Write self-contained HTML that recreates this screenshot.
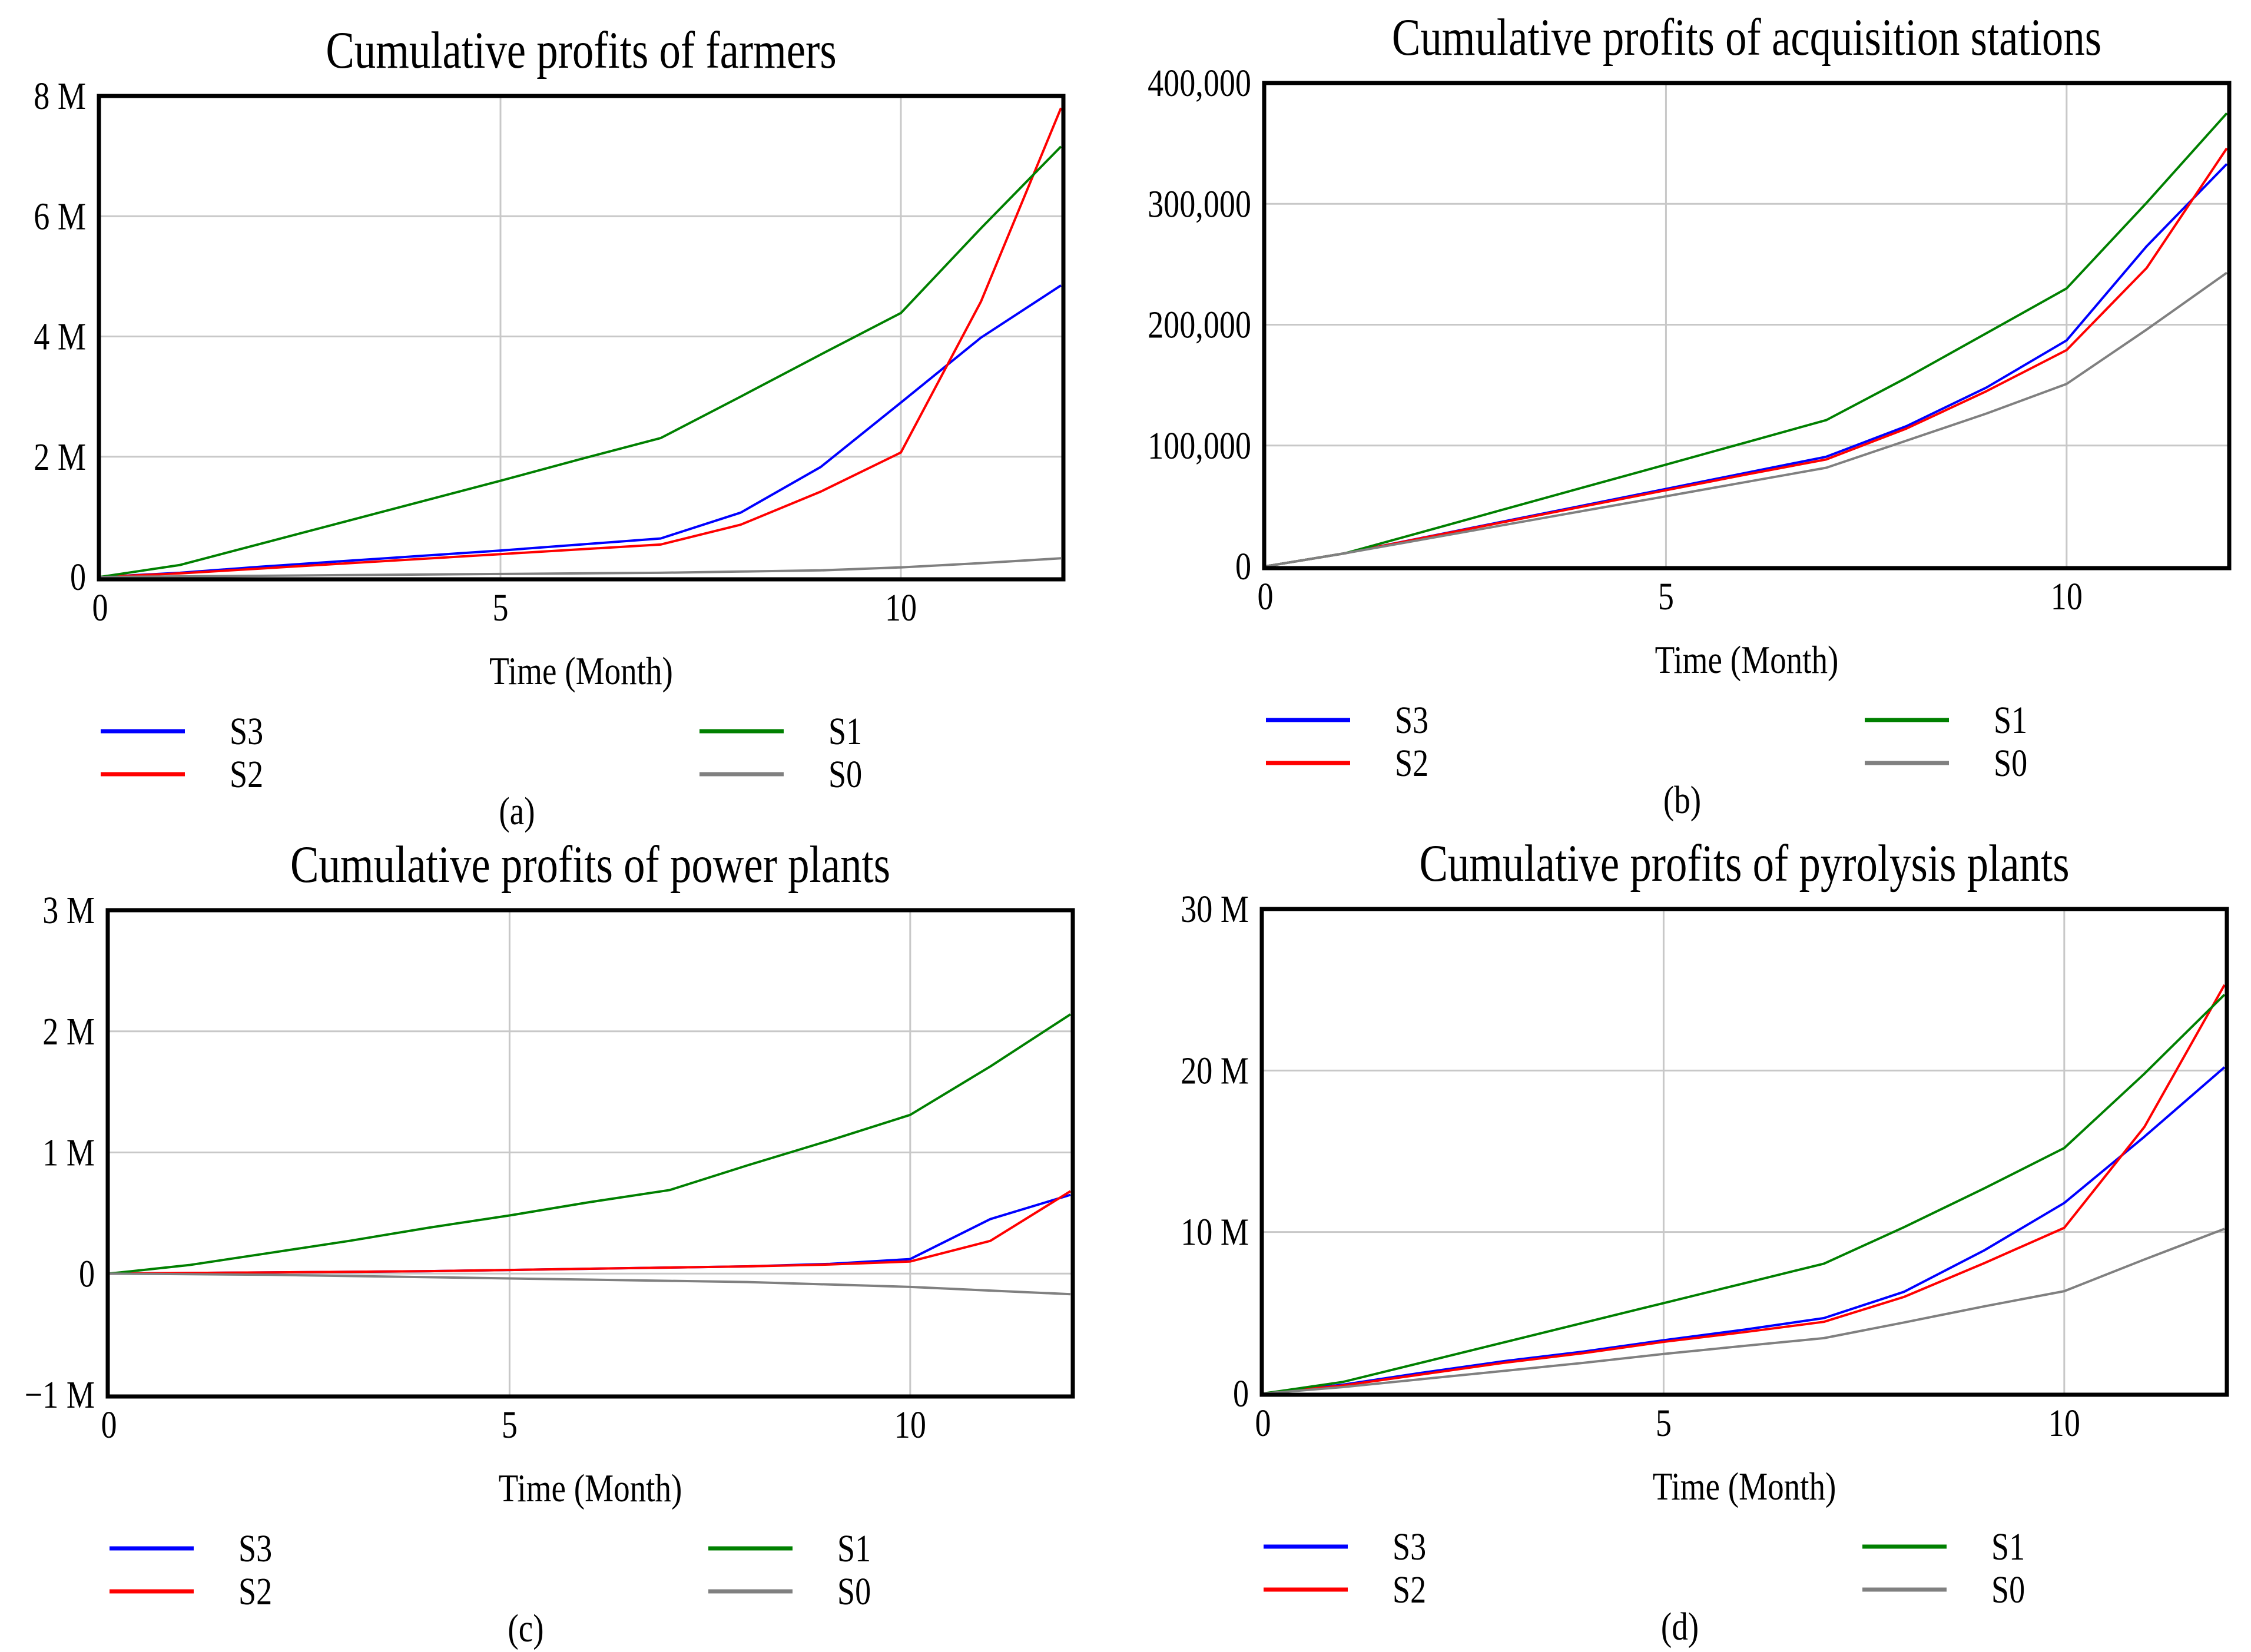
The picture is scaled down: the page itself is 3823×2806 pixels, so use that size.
<!DOCTYPE html>
<html>
<head>
<meta charset="utf-8">
<style>
html,body{margin:0;padding:0;background:#fff;}
svg{display:block;}
text{font-family:"Liberation Serif",serif;fill:#000;}
</style>
</head>
<body>
<svg id="fig" width="3823" height="2806" viewBox="0 0 3823 2806" xmlns="http://www.w3.org/2000/svg"></svg>
<script>
// ---- data ----
const months = [0,1,2,3,4,5,6,7,8,9,10,11,12];
const seriesNames = ["S3","S2","S1","S0"];
const seriesColors = ["#0000ff","#ff0000","#008000","#808080"];

// (a) farmers, M
const farmersS3 = [0,0.07,0.17,0.26,0.35,0.44,0.54,0.64,1.07,1.83,2.9,3.98,4.85];
const farmersS2 = [0,0.06,0.14,0.22,0.3,0.38,0.46,0.54,0.87,1.42,2.07,4.58,7.8];
const farmersS1 = [0,0.2,0.55,0.9,1.25,1.6,1.96,2.31,3.0,3.7,4.39,5.8,7.16];
const farmersS0 = [0,0.01,0.02,0.03,0.04,0.05,0.06,0.07,0.09,0.11,0.16,0.23,0.31];
const farmersTicks = [0,2,4,6,8];
const farmersTickLabels = ["0","2 M","4 M","6 M","8 M"];

// (b) acquisition stations, thousands
const stationsS3 = [0,10.9,24.2,37.5,50.8,64.1,77.4,90.7,116,148,187,265,333];
const stationsS2 = [0,10.9,24,37,50,63,76,88.5,114,145,179,247,346];
const stationsS1 = [0,10.9,29.2,47.6,65.9,84.2,102.6,121,156,193,230,301,375];
const stationsS0 = [0,10.9,22.7,34.5,46.3,58,69.8,81.6,104,126.5,151,196,243];
const stationsTicks = [0,100,200,300,400];
const stationsTickLabels = ["0","100,000","200,000","300,000","400,000"];

// (c) power plants, M
const powerS3 = [0,0.005,0.01,0.015,0.02,0.03,0.04,0.05,0.06,0.08,0.12,0.45,0.65];
const powerS2 = [0,0.005,0.01,0.015,0.02,0.03,0.04,0.05,0.06,0.075,0.10,0.27,0.68];
const powerS1 = [0,0.07,0.17,0.27,0.38,0.48,0.59,0.69,0.9,1.1,1.31,1.71,2.14];
const powerS0 = [0,-0.005,-0.01,-0.02,-0.03,-0.04,-0.05,-0.06,-0.07,-0.09,-0.11,-0.14,-0.17];
const powerTicks = [-1,0,1,2,3];
const powerTickLabels = ["\u22121 M","0","1 M","2 M","3 M"];

// (d) pyrolysis plants, M
const pyroS3 = [0,0.55,1.3,2.0,2.6,3.3,3.95,4.67,6.3,8.86,11.8,15.9,20.2];
const pyroS2 = [0,0.5,1.2,1.9,2.5,3.2,3.8,4.44,5.98,8.07,10.26,16.5,25.3];
const pyroS1 = [0,0.72,1.94,3.16,4.38,5.6,6.82,8.04,10.3,12.7,15.2,19.8,24.7];
const pyroS0 = [0,0.4,0.9,1.4,1.9,2.45,2.95,3.43,4.4,5.4,6.34,8.3,10.2];
const pyroTicks = [0,10,20,30];
const pyroTickLabels = ["0","10 M","20 M","30 M"];

const xTicks = [0,5,10];
const xTickLabels = ["0","5","10"];

// ---- layout ----
const panels = [
 {id:"farmers", title:"Cumulative profits of farmers", caption:"(a)", L:168,T:163,R:1806,B:984, y0:980, yMin:0,yMax:8, yTopPix:163,
  series:[farmersS3,farmersS2,farmersS1,farmersS0], ticks:farmersTicks, labels:farmersTickLabels},
 {id:"stations", title:"Cumulative profits of acquisition stations", caption:"(b)", L:2147,T:141,R:3786,B:965, y0:962, yMin:0,yMax:400, yTopPix:141,
  series:[stationsS3,stationsS2,stationsS1,stationsS0], ticks:stationsTicks, labels:stationsTickLabels},
 {id:"power", title:"Cumulative profits of power plants", caption:"(c)", L:183,T:1546,R:1822,B:2372, y0:2369, yMin:-1,yMax:3, yTopPix:1546,
  series:[powerS3,powerS2,powerS1,powerS0], ticks:powerTicks, labels:powerTickLabels},
 {id:"pyrolysis", title:"Cumulative profits of pyrolysis plants", caption:"(d)", L:2143,T:1544,R:3782,B:2369, y0:2367, yMin:0,yMax:30, yTopPix:1544,
  series:[pyroS3,pyroS2,pyroS1,pyroS0], ticks:pyroTicks, labels:pyroTickLabels}
];

const NS="http://www.w3.org/2000/svg";
const svg=document.getElementById("fig");
const SX=0.82, FS=1.2;
function mk(tag,attrs,parent){const e=document.createElementNS(NS,tag);for(const k in attrs)e.setAttribute(k,attrs[k]);(parent||svg).appendChild(e);return e;}
function txt(x,y,size,anchor,str,parent){
  const t=mk("text",{x:0,y:0,"font-size":size*FS,"text-anchor":anchor,transform:"translate("+x+","+y+") scale("+SX+",1)"},parent);
  t.textContent=str;return t;
}

panels.forEach(p=>{
  const g=mk("g",{});
  
  
  const x0=p.L+2, x12=p.R-4;
  const xs=v=>x0+(x12-x0)*v/12;
  const ys=v=>p.y0+(p.yTopPix-p.y0)*(v-p.yMin)/(p.yMax-p.yMin);

  xTicks.forEach((t,i)=>{
    if(t>0){const l=mk("line",{x1:xs(t),x2:xs(t),y1:p.T,y2:p.B,stroke:"#c8c8c8","stroke-width":3},g);
      
      }
    const tx=txt(xs(t),p.B+70,55,"middle",xTickLabels[i],g);
    
    
  });
  p.ticks.forEach((t,i)=>{
    const y=ys(t);
    if(t!==p.yMin && t!==p.yMax){const l=mk("line",{x1:p.L,x2:p.R,y1:y,y2:y,stroke:"#c8c8c8","stroke-width":3},g);
      
      }
    const tx=txt(p.L-22,y+22,55,"end",p.labels[i],g);
    
    
  });
  p.series.forEach((arr,si)=>{
    const pts=arr.map((v,i)=>xs(months[i]).toFixed(1)+","+ys(v).toFixed(1)).join(" ");
    const pl=mk("polyline",{points:pts,fill:"none",stroke:seriesColors[si],"stroke-width":4,"stroke-linejoin":"round"},g);
    
    
  });
  const fr=mk("rect",{x:p.L,y:p.T,width:p.R-p.L,height:p.B-p.T,fill:"none",stroke:"#000","stroke-width":7},g);
  
  
  const ti=txt((p.L+p.R)/2,p.T-48,74,"middle",p.title,g);
  
  
  const xt=txt((p.L+p.R)/2,p.B+178,56,"middle","Time (Month)",g);
  
  
  const cols=[[p.L+3,p.B+258],[p.L+3,p.B+331],[p.L+1020,p.B+258],[p.L+1020,p.B+331]];
  seriesNames.forEach((n,si)=>{
    const [lx,ly]=cols[si];
    const le=mk("g",{},g);
    
    
    mk("line",{x1:lx,x2:lx+143,y1:ly,y2:ly,stroke:seriesColors[si],"stroke-width":7},le);
    txt(lx+219,ly+22,55,"start",n,le);
  });
  const cap=txt(p.L+710,p.B+416,56,"middle",p.caption,g);
  
  
});
</script>
</body>
</html>
